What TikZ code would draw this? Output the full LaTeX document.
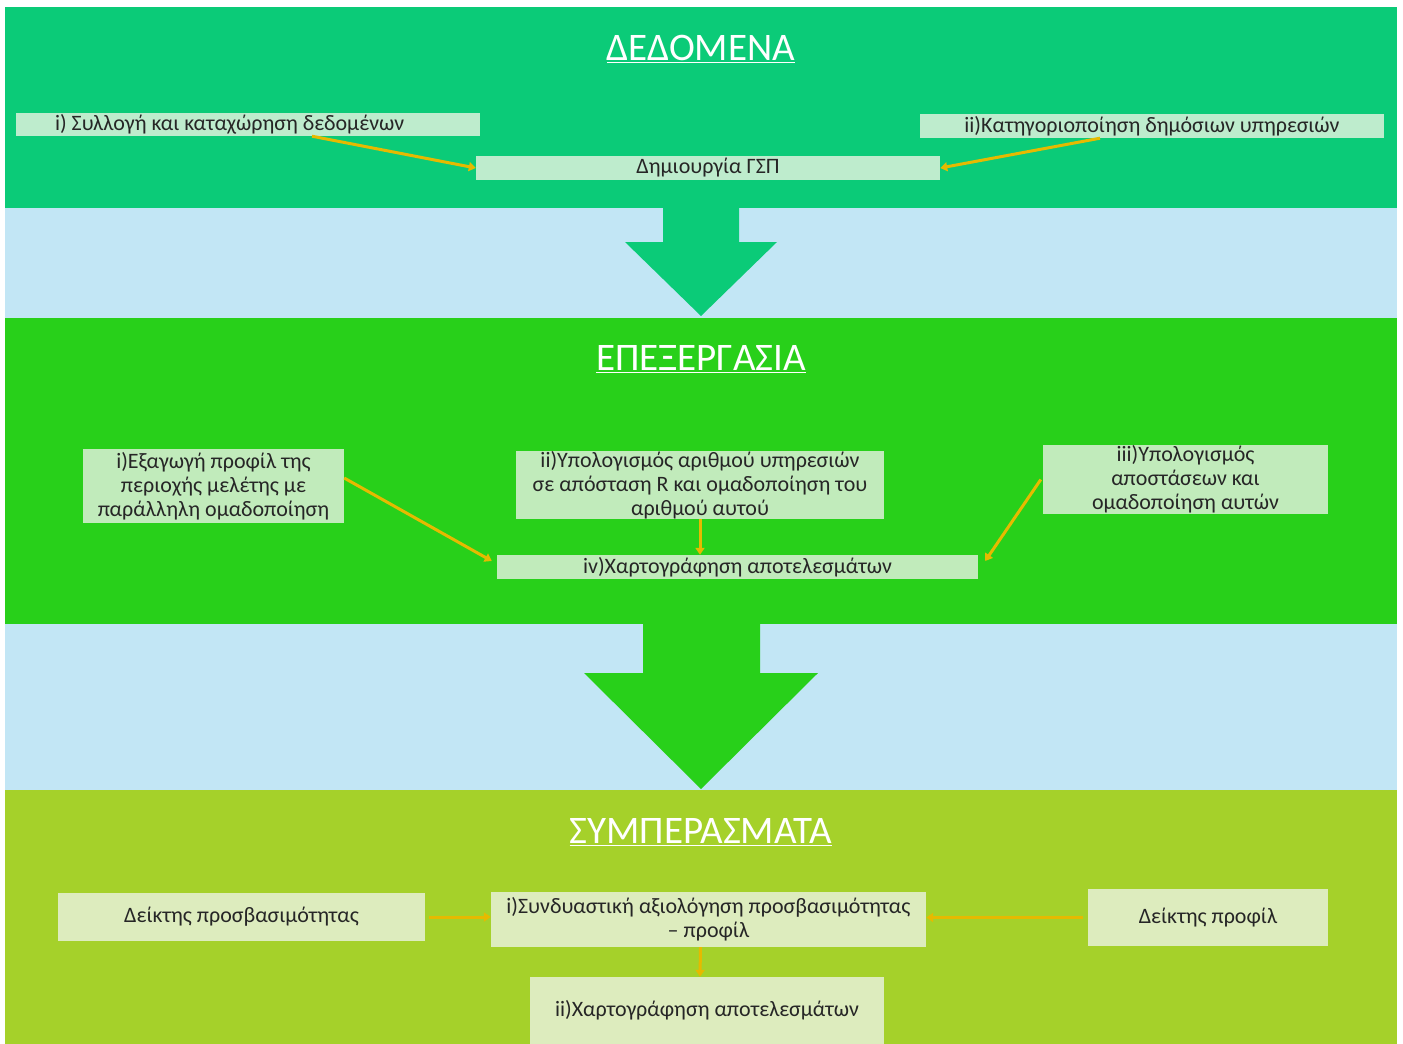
\documentclass[tikz,border=0pt]{standalone}
\usepackage{fontspec}
\setmainfont{Carlito}
\usetikzlibrary{arrows.meta,shapes}
\definecolor{bandone}{RGB}{11,203,120}
\definecolor{bandtwo}{RGB}{40,208,26}
\definecolor{bandthree}{RGB}{165,209,42}
\definecolor{skyband}{RGB}{194,230,245}
\definecolor{boxone}{RGB}{190,236,205}
\definecolor{boxtwo}{RGB}{193,235,187}
\definecolor{boxthree}{RGB}{221,236,190}
\definecolor{arrowgold}{RGB}{230,186,0}
\definecolor{txt}{RGB}{38,38,38}
\tikzstyle{title}=[text=white,font=\fontsize{39}{46}\selectfont]
\tikzstyle{topbox}=[rectangle,fill=boxone,text=txt,inner sep=0pt,align=center]
\tikzstyle{midbox}=[rectangle,fill=boxtwo,text=txt,inner sep=0pt,align=center]
\tikzstyle{botbox}=[rectangle,fill=boxthree,text=txt,inner sep=0pt,align=center]
\tikzstyle{arrow}=[->,line width=3pt,draw=arrowgold]
\begin{document}
\begin{tikzpicture}[x=1pt,y=-1pt,>={Triangle[length=7pt,width=9pt]},
                    font=\fontsize{22}{24}\selectfont]

  \useasboundingbox (0,0) rectangle (1403,1044);
  \fill[white] (0,0) rectangle (1403,1044);
  \fill[bandone] (5,7) rectangle (1397,208);
  \fill[skyband] (5,208) rectangle (1397,318);
  \fill[bandtwo] (5,318) rectangle (1397,624);
  \fill[skyband] (5,624) rectangle (1397,790);
  \fill[bandthree] (5,790) rectangle (1397,1044);

  % big arrows between the bands
  \fill[bandone] (663,208) -- (739,208) -- (739,242) -- (777,242) -- (701,316)
    -- (625,242) -- (663,242) -- cycle;
  \fill[bandtwo] (643,624) -- (760,624) -- (760,673) -- (818,673) -- (701,789)
    -- (584,673) -- (643,673) -- cycle;

  \node[title] (t1) at (701,49) {\underline{ΔΕΔΟΜΕΝΑ}};
  \node[topbox,minimum width=464pt,minimum height=23pt,text width=386pt,
        inner xsep=39pt,align=flush left] (syl) at (248,124.5)
        {i) Συλλογή και καταχώρηση δεδομένων};
  \node[topbox,minimum width=464pt,minimum height=24pt] (gsp) at (708,168)
        {Δημιουργία ΓΣΠ};
  \node[topbox,minimum width=464pt,minimum height=24pt] (kat) at (1152,126)
        {ii)Κατηγοριοποίηση δημόσιων υπηρεσιών};

  \draw[arrow] ([xshift=64pt]syl.south) -- (gsp.west);
  \draw[arrow] ([xshift=-52pt]kat.south) -- (gsp.east);

  \node[title] (t2) at (701,359) {\underline{ΕΠΕΞΕΡΓΑΣΙΑ}};
  \node[midbox,minimum width=261pt,minimum height=74pt] (prof) at (213.5,486)
        {i)Εξαγωγή προφίλ της\\περιοχής μελέτης με\\παράλληλη ομαδοποίηση};
  \node[midbox,minimum width=368pt,minimum height=68pt] (arith) at (700,485)
        {ii)Υπολογισμός αριθμού υπηρεσιών\\σε απόσταση R και ομαδοποίηση του\\αριθμού αυτού};
  \node[midbox,minimum width=285pt,minimum height=69pt] (apost) at (1185.5,479.5)
        {iii)Υπολογισμός\\αποστάσεων και\\ομαδοποίηση αυτών};
  \node[midbox,minimum width=481pt,minimum height=24pt] (chart) at (737.5,567)
        {iv)Χαρτογράφηση αποτελεσμάτων};

  \draw[arrow] ([yshift=8pt]prof.east) -- ([xshift=-5pt,yshift=6pt]chart.west);
  \draw[arrow] (arith.south) -- (arith.south |- chart.north);
  \draw[arrow] ([xshift=-2pt]apost.west) -- ([xshift=7pt,yshift=6pt]chart.east);

  \node[title] (t3) at (701,832) {\underline{ΣΥΜΠΕΡΑΣΜΑΤΑ}};
  \node[botbox,minimum width=367pt,minimum height=48pt] (deikt) at (241.5,917)
        {Δείκτης προσβασιμότητας};
  \node[botbox,minimum width=435pt,minimum height=55pt] (synd) at (708.5,919.5)
        {i)Συνδυαστική αξιολόγηση προσβασιμότητας\\– προφίλ};
  \node[botbox,minimum width=240pt,minimum height=57pt] (dprof) at (1208,917.5)
        {Δείκτης προφίλ};
  \node[botbox,minimum width=354pt,minimum height=67pt] (hart) at (707,1010.5)
        {ii)Χαρτογράφηση αποτελεσμάτων};

  \draw[arrow] ([xshift=4pt]deikt.east) -- (deikt.east -| synd.west);
  \draw[arrow] ([xshift=-5pt]dprof.west) -- (dprof.west -| synd.east);
  \draw[arrow] ([xshift=-8pt]synd.south) -- ([xshift=-7pt]hart.north);

\end{tikzpicture}
\end{document}
